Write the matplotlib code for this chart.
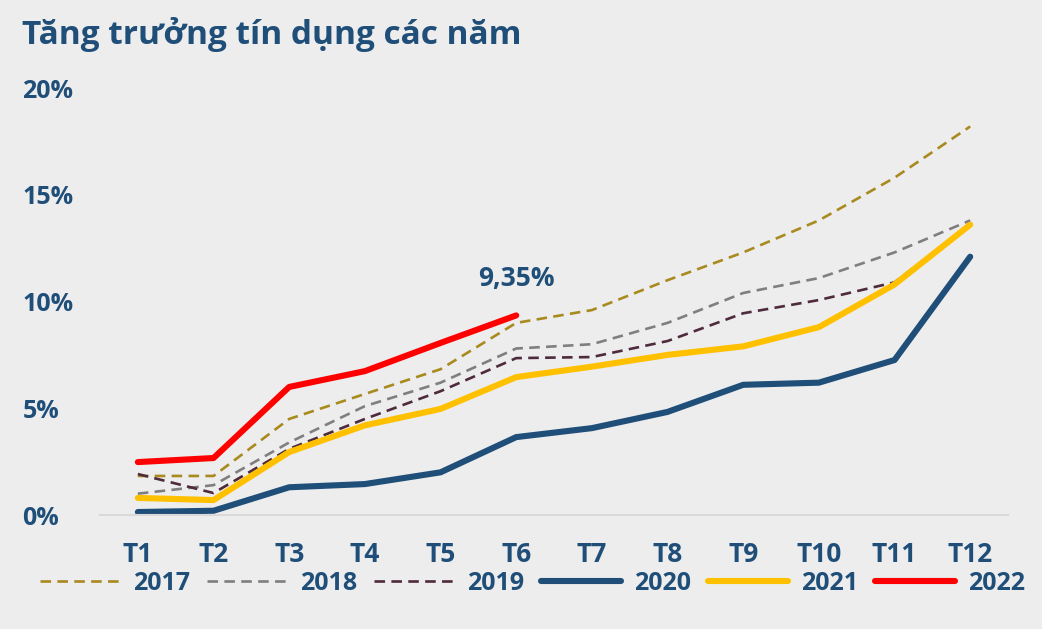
import numpy as np
import matplotlib
matplotlib.use("Agg")
import matplotlib.pyplot as plt
from matplotlib.ticker import FuncFormatter

# credit growth by month, %
months = ["T1", "T2", "T3", "T4", "T5", "T6", "T7", "T8", "T9", "T10", "T11", "T12"]
y2017 = [1.83, 1.83, 4.5, 5.67, 6.83, 9.0, 9.6, 11.0, 12.3, 13.8, 15.8, 18.2]
y2018 = [1.0, 1.4, 3.4, 5.1, 6.2, 7.8, 8.0, 9.0, 10.4, 11.1, 12.3, 13.8]
y2019 = [1.92, 1.03, 3.1, 4.5, 5.8, 7.35, 7.4, 8.15, 9.45, 10.07, 10.9, 13.6]
y2020 = [0.14, 0.2, 1.3, 1.45, 2.0, 3.65, 4.07, 4.83, 6.1, 6.2, 7.26, 12.1]
y2021 = [0.8, 0.7, 2.95, 4.2, 4.97, 6.46, 6.95, 7.5, 7.9, 8.8, 10.8, 13.6]
y2022 = [2.48, 2.67, 6.0, 6.74, 8.06, 9.35]
labels = ["2017", "2018", "2019", "2020", "2021", "2022"]
note = "9,35%"

navy = "#1F4E79"
bg = "#EDEDED"
plt.rcParams["font.family"] = ["Open Sans", "DejaVu Sans"]
plt.rcParams["font.weight"] = "bold"

fig = plt.figure(figsize=(10.42, 6.29), dpi=100, facecolor=bg)
ax = fig.add_axes([0.096, 0.1812, 0.8714, 0.6788], facecolor=bg)

x = np.arange(len(months))
dash = (4, 2.4)
ax.plot(x, y2017, color="#A88A1E", lw=1.9, ls=(0, dash), label=labels[0], clip_on=False)
ax.plot(x, y2018, color="#7F7F7F", lw=1.9, ls=(0, dash), label=labels[1], clip_on=False)
ax.plot(x, y2019, color="#4E2A3C", lw=1.9, ls=(0, dash), label=labels[2], clip_on=False)
ax.plot(x, y2020, color=navy, lw=4.4, label=labels[3], solid_capstyle="round", clip_on=False)
ax.plot(x, y2021, color="#FFC000", lw=4.4, label=labels[4], solid_capstyle="round", clip_on=False)
ax.plot(x[:len(y2022)], y2022, color="#FF0000", lw=4.4, label=labels[5], solid_capstyle="round", clip_on=False)

ax.text(5, y2022[-1] + 1.4, note, ha="center", va="baseline", color=navy, fontsize=19, fontweight="bold")

ax.set_xlim(-0.5, len(months) - 0.5)
ax.set_ylim(0, 20)
ax.set_yticks([0, 5, 10, 15, 20])
ax.yaxis.set_major_formatter(FuncFormatter(lambda v, p: "%d%%" % v))
ax.set_xticks(x)
ax.set_xticklabels(months)
for s in ["top", "right", "left"]:
    ax.spines[s].set_visible(False)
ax.spines["bottom"].set_color("#D9D9D9")
ax.spines["bottom"].set_linewidth(1.5)
ax.tick_params(axis="both", length=0, labelcolor=navy)
ax.tick_params(axis="x", pad=19, labelsize=19)
ax.tick_params(axis="y", pad=56, labelsize=18)
for t in ax.get_yticklabels():
    t.set_horizontalalignment("left")

fig.text(0.021, 0.945, "Tăng trưởng tín dụng các năm", fontsize=24, fontweight="bold",
         color=navy, ha="left", va="center")

fig.legend(loc="center", bbox_to_anchor=(0.511, 1 - 583 / 629), ncol=6, frameon=False,
           fontsize=18, handlelength=3.2, handletextpad=0.52, columnspacing=0.68,
           labelcolor=navy)

fig.savefig("out.png", dpi=100, facecolor=bg)
